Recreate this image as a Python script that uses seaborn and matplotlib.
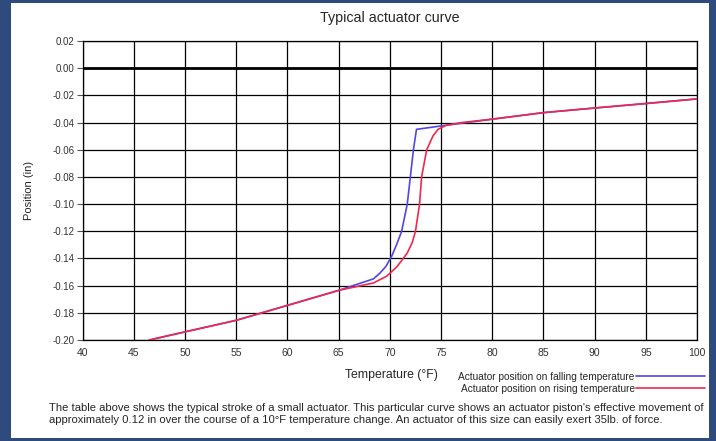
import seaborn as sns
import matplotlib.pyplot as plt
import matplotlib.patches as mpatches
import pandas as pd

# falling temperature (blue)
fall_temp = [46.5, 50, 55, 60, 65, 68.4, 69.0, 69.6, 70.2, 70.7, 71.15, 71.7,
             72.0, 72.3, 72.6, 75, 80, 85, 90, 95, 100]
fall_pos = [-0.200, -0.194, -0.1855, -0.1745, -0.1635, -0.155, -0.151, -0.146,
            -0.138, -0.129, -0.120, -0.100, -0.080, -0.060, -0.045, -0.0425,
            -0.0375, -0.0327, -0.0293, -0.026, -0.0226]

# rising temperature (red)
rise_temp = [46.5, 50, 55, 60, 65, 68.4, 69.7, 70.7, 71.7, 72.2, 72.5, 72.9,
             73.1, 73.6, 74.2, 74.7, 75.5, 77, 80, 85, 90, 95, 100]
rise_pos = [-0.200, -0.194, -0.1855, -0.1745, -0.1635, -0.158, -0.153, -0.146,
            -0.136, -0.128, -0.120, -0.100, -0.080, -0.060, -0.050, -0.045,
            -0.042, -0.040, -0.0375, -0.0327, -0.0293, -0.026, -0.0226]

series_names = ["Actuator position on falling temperature",
                "Actuator position on rising temperature"]
x_ticks = list(range(40, 101, 5))
y_ticks = [0.02, 0.00, -0.02, -0.04, -0.06, -0.08, -0.10, -0.12, -0.14,
           -0.16, -0.18, -0.20]

df = pd.concat([
    pd.DataFrame({"temp": fall_temp, "pos": fall_pos, "series": series_names[0]}),
    pd.DataFrame({"temp": rise_temp, "pos": rise_pos, "series": series_names[1]}),
])

sns.set_style("white")
plt.rcParams["font.family"] = ["Liberation Sans", "DejaVu Sans"]
plt.rcParams["axes.unicode_minus"] = False

fig = plt.figure(figsize=(7.16, 4.41), dpi=100, facecolor="#2f4a7c")
fig.patches.append(mpatches.Rectangle((11 / 716, 3 / 441), 698 / 716, 435 / 441,
                                      transform=fig.transFigure,
                                      facecolor="white", edgecolor="none",
                                      zorder=-5))
ax = fig.add_axes([0.1155, 0.229, 0.858, 0.678])

palette = {series_names[0]: "#5046e6", series_names[1]: "#f0284e"}
sns.lineplot(data=df, x="temp", y="pos", hue="series", palette=palette,
             sort=False, estimator=None, linewidth=1.2, ax=ax, zorder=3)

ax.set_xlim(40, 100)
ax.set_ylim(-0.20, 0.02)
ax.set_xticks(x_ticks)
ax.set_yticks(y_ticks)
ax.set_yticklabels([f"{v:.2f}" for v in y_ticks])
ax.grid(True, color="black", linewidth=0.9)
ax.axhline(0, color="black", linewidth=2.0, zorder=2)
for s in ax.spines.values():
    s.set_color("black")
    s.set_linewidth(0.9)
ax.tick_params(axis="x", length=0, pad=6, labelsize=7.5, labelcolor="#333333")
ax.tick_params(axis="y", left=True, length=4, width=0.8, color="#555555",
               pad=2, labelsize=7, labelcolor="#333333")

ax.set_title("Typical actuator curve", fontsize=10.3, pad=14)
ax.set_xlabel("Temperature (°F)", fontsize=8.8)
ax.xaxis.set_label_coords(0.502, -0.098)
ax.set_ylabel("Position (in)", fontsize=8, labelpad=13)

ax.legend(loc="upper right", bbox_to_anchor=(0.992, 0.168),
          bbox_transform=fig.transFigure, frameon=False, markerfirst=False,
          fontsize=7.3, handlelength=6.8, handletextpad=0.15, labelspacing=0.2,
          borderpad=0)

fig.text(49 / 716, 1 - 414 / 441,
         "The table above shows the typical stroke of a small actuator. This particular "
         "curve shows an actuator piston's effective movement of\n"
         "approximately 0.12 in over the course of a 10°F temperature change. "
         "An actuator of this size can easily exert 35lb. of force.",
         fontsize=8.1, va="center", ha="left", linespacing=1.25)

fig.savefig("out.png", dpi=100, facecolor=fig.get_facecolor())
